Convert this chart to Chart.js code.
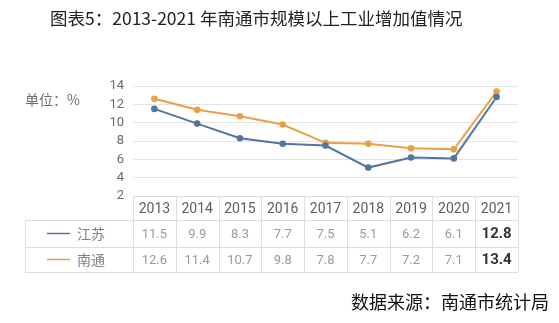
<!DOCTYPE html>
<html>
<head>
<meta charset="utf-8">
<script src="https://cdn.jsdelivr.net/npm/chart.js@4/dist/chart.umd.min.js"></script>
<style>
  html, body { margin: 0; padding: 0; background: #fff; }
  #wrap { width: 559px; height: 323px; }
</style>
</head>
<body>
<div id="wrap"><canvas id="myChart" width="559" height="323"></canvas></div>
<script>
// values as printed in the chart's table
const years = ['2013', '2014', '2015', '2016', '2017', '2018', '2019', '2020', '2021'];
const jiangsu = [11.5, 9.9, 8.3, 7.7, 7.5, 5.1, 6.2, 6.1, 12.8];
const nantong = [12.6, 11.4, 10.7, 9.8, 7.8, 7.7, 7.2, 7.1, 13.4];
const seriesNames = ['江苏', '南通'];
const titleText = '图表5：2013-2021 年南通市规模以上工业增加值情况';
const unitText = '单位：%';
const sourceText = '数据来源：南通市统计局';

const blue = '#52769f';
const orange = '#eb9f45';
const font = 'Roboto, "Noto Sans CJK SC", sans-serif';
const cjk = '"Noto Sans CJK SC", sans-serif';

// table rows under the plot
const rowTop = 196, rowHead = 220, rowMid = 247, rowBottom = 272, tableLeft = 25;

const extras = {
  id: 'extras',
  afterDraw(chart) {
    const ctx = chart.ctx;
    const x = chart.scales.x;
    const step = x.getPixelForValue(1) - x.getPixelForValue(0);
    const left = x.getPixelForValue(0) - step / 2;
    const right = x.getPixelForValue(years.length - 1) + step / 2;
    ctx.save();

    // title / unit / source
    ctx.textBaseline = 'middle';
    ctx.fillStyle = '#222';
    ctx.font = '17.5px ' + cjk;
    ctx.textAlign = 'left';
    ctx.fillText(titleText, 50, 18);
    ctx.fillStyle = '#6d6d6d';
    ctx.font = '14px ' + cjk;
    ctx.fillText(unitText, 25, 100);
    ctx.fillStyle = '#111';
    ctx.font = '18px ' + cjk;
    ctx.textAlign = 'right';
    ctx.fillText(sourceText, 549, 302);

    // table lines
    ctx.strokeStyle = '#dedede';
    ctx.lineWidth = 1;
    ctx.beginPath();
    ctx.moveTo(left, rowTop + 0.5); ctx.lineTo(right, rowTop + 0.5);
    [rowHead, rowMid, rowBottom].forEach(function (y) {
      ctx.moveTo(tableLeft, y + 0.5); ctx.lineTo(right, y + 0.5);
    });
    ctx.moveTo(tableLeft + 0.5, rowHead); ctx.lineTo(tableLeft + 0.5, rowBottom);
    for (let i = 0; i <= years.length; i++) {
      const px = Math.round(left + i * step) + 0.5;
      ctx.moveTo(px, rowTop); ctx.lineTo(px, rowBottom);
    }
    ctx.stroke();

    // header years
    ctx.textAlign = 'center';
    ctx.fillStyle = '#5e5e5e';
    ctx.font = '14px ' + font;
    years.forEach(function (yr, i) {
      ctx.fillText(yr, x.getPixelForValue(i), (rowTop + rowHead) / 2 + 1);
    });

    // rows
    const rows = [
      { name: seriesNames[0], color: blue, data: jiangsu, y: (rowHead + rowMid) / 2 },
      { name: seriesNames[1], color: orange, data: nantong, y: (rowMid + rowBottom) / 2 }
    ];
    rows.forEach(function (r) {
      ctx.strokeStyle = r.color;
      ctx.lineWidth = 1.5;
      ctx.beginPath();
      ctx.moveTo(47, r.y); ctx.lineTo(70, r.y);
      ctx.stroke();
      ctx.fillStyle = '#808080';
      ctx.font = '14px ' + cjk;
      ctx.textAlign = 'left';
      ctx.fillText(r.name, 77, r.y);
      ctx.textAlign = 'center';
      r.data.forEach(function (v, i) {
        const last = i === r.data.length - 1;
        ctx.fillStyle = last ? '#333' : '#9a9a9a';
        ctx.font = (last ? 'bold 15px ' : '13px ') + font;
        ctx.fillText(v.toFixed(1), x.getPixelForValue(i), r.y + 1);
      });
    });
    ctx.restore();
  }
};

const ctx = document.getElementById('myChart').getContext('2d');
const myChart = new Chart(ctx, {
  type: 'line',
  data: {
    labels: years,
    datasets: [
      {
        label: seriesNames[0],
        data: jiangsu,
        borderColor: blue,
        backgroundColor: blue,
        borderWidth: 2,
        pointRadius: 2.3,
        pointBackgroundColor: blue,
        tension: 0
      },
      {
        label: seriesNames[1],
        data: nantong,
        borderColor: orange,
        backgroundColor: orange,
        borderWidth: 2,
        pointRadius: 2.3,
        pointBackgroundColor: orange,
        tension: 0
      }
    ]
  },
  options: {
    responsive: false,
    animation: false,
    layout: { padding: { left: 0, top: 86, right: 41, bottom: 127 } },
    plugins: { legend: { display: false }, tooltip: { enabled: false } },
    scales: {
      x: {
        display: false,
        offset: true
      },
      y: {
        min: 2,
        max: 14,
        afterFit: function (s) { s.width = 133; },
        border: { display: false },
        grid: { color: '#e4e4e4', drawTicks: false },
        ticks: {
          stepSize: 2,
          autoSkip: false,
          padding: 9,
          color: '#6a6a6a',
          font: { family: 'Roboto', size: 13 }
        }
      }
    }
  },
  plugins: [extras]
});
</script>
</body>
</html>
